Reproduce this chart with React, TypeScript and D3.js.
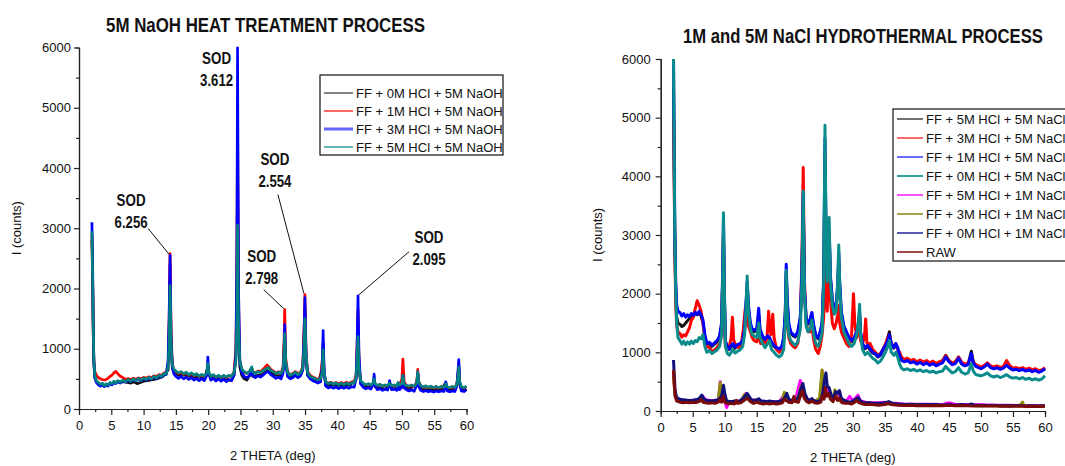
import React, { useEffect, useRef } from 'react';
import * as d3 from 'd3';

type Pt = [number, number];

const FONT = '"Liberation Sans", Arial, Helvetica, sans-serif';

// shared axes
const xMajor = [0, 5, 10, 15, 20, 25, 30, 35, 40, 45, 50, 55, 60];
const xMinor = [2.5, 7.5, 12.5, 17.5, 22.5, 27.5, 32.5, 37.5, 42.5, 47.5, 52.5, 57.5];
const yMajor = [0, 1000, 2000, 3000, 4000, 5000, 6000];
const yMinor = [500, 1500, 2500, 3500, 4500, 5500];
const xTitle = '2 THETA (deg)';
const yTitle = 'I (counts)';

// ---------------- left panel : 5M NaOH heat treatment ----------------
const naohTitle = '5M NaOH HEAT TREATMENT PROCESS';
const naohNames = ['FF + 0M HCl + 5M NaOH', 'FF + 1M HCl + 5M NaOH', 'FF + 3M HCl + 5M NaOH', 'FF + 5M HCl + 5M NaOH'];

const naoh0M: Pt[] = [[2.0,2800],[2.1,2200],[2.2,1300],[2.3,750],[2.45,520],[2.7,450],[3.0,420],[3.5,400],[4.0,390],[4.5,410],[5.0,420],[5.5,440],[6.0,450],[7.0,455],[8.0,430],[8.5,450],[9.0,420],[10.0,460],[11.0,480],[12.0,500],[13.0,540],[13.8,650],[13.95,1200],[14.1,2400],[14.25,1100],[14.45,680],[14.7,600],[15.5,560],[16.5,560],[17.5,540],[18.5,530],[19.5,520],[19.95,700],[20.1,560],[21,520],[22,500],[23,490],[23.6,470],[24.0,560],[24.3,900],[24.45,2000],[24.55,4000],[24.7,1500],[24.9,700],[25.2,560],[25.6,500],[26.0,480],[26.75,620],[26.9,540],[27.7,560],[28.5,580],[29.1,640],[29.7,600],[30.5,560],[31.3,550],[31.6,650],[31.85,1300],[32.0,700],[32.7,520],[33.5,560],[34.3,560],[34.65,650],[34.98,1700],[35.15,850],[35.4,560],[36.2,480],[37.0,440],[37.65,650],[37.8,1100],[37.95,600],[38.2,400],[39.0,400],[40.0,390],[41.0,390],[42.0,400],[42.9,500],[43.05,900],[43.2,1500],[43.35,750],[43.6,420],[44.4,370],[45.2,360],[45.7,450],[45.85,370],[46.6,350],[47.4,330],[48.1,400],[48.4,340],[49.2,340],[49.4,400],[49.6,350],[50.15,500],[50.35,360],[51.1,340],[52.3,400],[52.45,580],[52.6,400],[53.3,320],[54.1,320],[55.3,320],[56.1,320],[56.8,440],[57.0,320],[57.8,320],[58.5,380],[58.7,600],[58.8,740],[58.95,420],[59.2,320],[59.6,310],[60.0,330]];

const naoh1M: Pt[] = [[2.0,2900],[2.1,2300],[2.2,1300],[2.3,800],[2.45,620],[2.7,560],[3.0,520],[3.3,500],[3.6,490],[3.9,480],[4.2,490],[4.5,510],[4.8,540],[5.1,560],[5.4,600],[5.7,625],[6.0,585],[6.4,545],[6.8,520],[7.2,490],[7.6,505],[8.0,490],[8.4,510],[8.8,495],[9.2,515],[9.6,500],[10.0,525],[10.4,510],[10.8,535],[11.2,520],[11.6,550],[12.0,540],[12.4,570],[12.8,560],[13.2,600],[13.5,600],[13.8,750],[13.95,1400],[14.1,2580],[14.25,1300],[14.45,750],[14.7,650],[15.0,615],[15.4,590],[15.8,610],[16.2,575],[16.6,600],[17.0,560],[17.4,590],[17.8,550],[18.2,575],[18.6,540],[19.0,565],[19.4,540],[19.8,580],[19.95,700],[20.1,590],[20.4,535],[20.8,560],[21.2,525],[21.6,550],[22.0,520],[22.4,550],[22.8,525],[23.2,550],[23.6,535],[24.0,620],[24.3,1000],[24.45,2500],[24.55,4850],[24.7,1800],[24.9,800],[25.2,650],[25.6,610],[26.0,590],[26.4,620],[26.75,680],[26.9,620],[27.3,600],[27.7,630],[28.1,620],[28.5,660],[28.9,700],[29.1,730],[29.4,700],[29.7,660],[30.1,630],[30.5,600],[30.9,620],[31.3,600],[31.6,700],[31.75,1100],[31.85,1650],[32.0,850],[32.3,610],[32.7,570],[33.1,590],[33.5,620],[33.9,590],[34.3,610],[34.65,700],[34.85,1300],[34.98,1900],[35.15,950],[35.4,620],[35.8,560],[36.2,530],[36.6,510],[37.0,490],[37.4,520],[37.65,800],[37.8,920],[37.95,600],[38.2,450],[38.6,430],[39.0,445],[39.4,420],[39.8,440],[40.2,420],[40.6,440],[41.0,420],[41.4,445],[41.8,425],[42.2,450],[42.6,440],[42.9,560],[43.05,1000],[43.2,1650],[43.35,800],[43.6,460],[44.0,420],[44.4,400],[44.8,415],[45.2,395],[45.55,420],[45.7,480],[45.85,410],[46.2,390],[46.6,405],[47.0,380],[47.4,395],[47.8,380],[48.1,420],[48.4,380],[48.8,395],[49.2,380],[49.4,420],[49.6,390],[50.0,500],[50.15,830],[50.35,450],[50.7,390],[51.1,375],[51.5,390],[51.9,370],[52.3,450],[52.45,660],[52.6,460],[52.9,385],[53.3,360],[53.7,380],[54.1,355],[54.5,375],[54.9,350],[55.3,370],[55.7,350],[56.1,370],[56.5,355],[56.8,400],[57.0,360],[57.4,350],[57.8,365],[58.2,355],[58.5,400],[58.7,600],[58.8,700],[58.95,430],[59.2,360],[59.6,350],[60.0,370]];

const naoh3M: Pt[] = [[2.0,3100],[2.1,2500],[2.2,1500],[2.3,800],[2.45,520],[2.7,440],[3.0,400],[3.3,380],[3.6,405],[3.9,370],[4.2,400],[4.5,380],[4.8,420],[5.1,400],[5.4,440],[5.7,420],[6.0,455],[6.4,430],[6.8,470],[7.2,445],[7.6,480],[8.0,455],[8.4,490],[8.8,465],[9.2,500],[9.6,470],[10.0,505],[10.4,480],[10.8,515],[11.2,495],[11.6,530],[12.0,505],[12.4,550],[12.8,530],[13.2,580],[13.5,570],[13.8,800],[13.95,1500],[14.1,2550],[14.25,1200],[14.45,700],[14.7,580],[15.0,540],[15.4,510],[15.8,540],[16.2,500],[16.6,530],[17.0,490],[17.4,520],[17.8,480],[18.2,510],[18.6,470],[19.0,505],[19.4,470],[19.8,560],[19.95,860],[20.1,600],[20.4,480],[20.8,505],[21.2,465],[21.6,500],[22.0,460],[22.4,495],[22.8,455],[23.2,490],[23.6,470],[24.0,560],[24.3,900],[24.45,2500],[24.55,6000],[24.7,2000],[24.9,800],[25.2,600],[25.6,540],[26.0,520],[26.4,550],[26.75,640],[26.9,560],[27.3,520],[27.7,550],[28.1,530],[28.5,560],[28.9,600],[29.3,620],[29.7,570],[30.1,540],[30.5,510],[30.9,530],[31.3,500],[31.6,600],[31.75,900],[31.85,1400],[32.0,750],[32.3,540],[32.7,500],[33.1,520],[33.5,560],[33.9,520],[34.3,550],[34.65,650],[34.85,1200],[34.98,1850],[35.15,900],[35.4,560],[35.8,500],[36.2,470],[36.6,450],[37.0,430],[37.4,450],[37.65,700],[37.8,1300],[37.95,650],[38.2,380],[38.6,350],[39.0,370],[39.4,345],[39.8,365],[40.2,340],[40.6,365],[41.0,345],[41.4,365],[41.8,345],[42.2,370],[42.6,360],[42.9,500],[43.05,1000],[43.2,1880],[43.35,900],[43.6,420],[44.0,360],[44.4,335],[44.8,355],[45.2,330],[45.55,420],[45.7,580],[45.85,380],[46.2,320],[46.6,340],[47.0,310],[47.4,330],[47.8,315],[48.1,470],[48.4,320],[48.8,330],[49.2,310],[49.4,430],[49.6,320],[50.0,360],[50.15,560],[50.35,350],[50.7,320],[51.1,300],[51.5,320],[51.9,295],[52.3,400],[52.45,600],[52.6,380],[52.9,310],[53.3,290],[53.7,305],[54.1,285],[54.5,300],[54.9,280],[55.3,300],[55.7,285],[56.1,300],[56.5,290],[56.8,450],[57.0,300],[57.4,285],[57.8,300],[58.2,290],[58.5,380],[58.7,650],[58.8,820],[58.95,450],[59.2,300],[59.6,290],[60.0,320]];

const naoh5M: Pt[] = [[2.0,2950],[2.1,2300],[2.2,1400],[2.3,800],[2.45,560],[2.7,470],[3.0,440],[3.3,410],[3.6,430],[3.9,385],[4.2,420],[4.5,395],[4.8,440],[5.1,420],[5.4,460],[5.7,430],[6.0,470],[6.4,445],[6.8,480],[7.2,455],[7.6,490],[8.0,460],[8.4,500],[8.8,470],[9.2,505],[9.6,480],[10.0,515],[10.4,490],[10.8,525],[11.2,500],[11.6,540],[12.0,515],[12.4,560],[12.8,540],[13.2,590],[13.5,580],[13.8,700],[13.95,1100],[14.1,2050],[14.25,1100],[14.45,720],[14.7,660],[15.0,630],[15.4,600],[15.8,620],[16.2,585],[16.6,610],[17.0,570],[17.4,600],[17.8,560],[18.2,585],[18.6,545],[19.0,575],[19.4,545],[19.8,600],[19.95,760],[20.1,620],[20.4,540],[20.8,570],[21.2,530],[21.6,560],[22.0,525],[22.4,560],[22.8,530],[23.2,560],[23.6,540],[24.0,600],[24.3,800],[24.45,1500],[24.55,3050],[24.7,1400],[24.9,800],[25.2,660],[25.6,620],[26.0,590],[26.4,620],[26.75,700],[26.9,620],[27.3,590],[27.7,620],[28.1,600],[28.5,640],[28.9,660],[29.3,690],[29.7,640],[30.1,620],[30.5,590],[30.9,610],[31.3,590],[31.6,660],[31.75,900],[31.85,1250],[32.0,800],[32.3,600],[32.7,560],[33.1,580],[33.5,610],[33.9,570],[34.3,600],[34.65,680],[34.85,1000],[34.98,1500],[35.15,900],[35.4,600],[35.8,540],[36.2,520],[36.6,500],[37.0,480],[37.4,500],[37.65,600],[37.8,980],[37.95,600],[38.2,450],[38.6,420],[39.0,440],[39.4,410],[39.8,435],[40.2,405],[40.6,430],[41.0,405],[41.4,430],[41.8,410],[42.2,440],[42.6,425],[42.9,520],[43.05,800],[43.2,1200],[43.35,700],[43.6,470],[44.0,430],[44.4,400],[44.8,420],[45.2,395],[45.55,440],[45.7,500],[45.85,420],[46.2,390],[46.6,410],[47.0,380],[47.4,400],[47.8,380],[48.1,430],[48.4,385],[48.8,400],[49.2,380],[49.4,440],[49.6,395],[50.0,420],[50.15,560],[50.35,410],[50.7,390],[51.1,380],[51.5,400],[51.9,375],[52.3,430],[52.45,620],[52.6,450],[52.9,390],[53.3,365],[53.7,385],[54.1,360],[54.5,380],[54.9,355],[55.3,375],[55.7,355],[56.1,375],[56.5,360],[56.8,420],[57.0,370],[57.4,355],[57.8,375],[58.2,360],[58.5,400],[58.7,560],[58.8,700],[58.95,450],[59.2,370],[59.6,355],[60.0,380]];

// SOD reflections (2theta, peak counts, d-spacing)
const sodTheta = [14.1, 24.55, 31.85, 34.98, 43.2];
const sodCounts = [2550, 6000, 1650, 1900, 1880];
const sodD = ['6.256', '3.612', '2.798', '2.554', '2.095'];
// where each label sits relative to its peak (px) and where its leader starts
const sodLabelOffset = [[-39, -55], [-21, 10], [-23, -54], [-30, -136], [71, -59]];
const sodLeaderStart = [[-22, -27], null, [-21, -20], [-27, -100], [51, -44]];

// ---------------- right panel : NaCl hydrothermal ----------------
const naclTitle = '1M and 5M NaCl HYDROTHERMAL PROCESS';
const naclNames = ['FF + 5M HCl + 5M NaCl', 'FF + 3M HCl + 5M NaCl', 'FF + 1M HCl + 5M NaCl', 'FF + 0M HCl + 5M NaCl', 'FF + 5M HCl + 1M NaCl', 'FF + 3M HCl + 1M NaCl', 'FF + 0M HCl + 1M NaCl', 'RAW'];

const nacl5M5: Pt[] = [[2.0,5500],[2.1,4200],[2.2,2900],[2.35,2000],[2.5,1600],[2.7,1500],[3.0,1480],[3.3,1440],[3.6,1460],[3.9,1500],[4.2,1540],[4.5,1580],[4.8,1620],[5.1,1620],[5.4,1660],[5.7,1640],[6.0,1680],[6.3,1620],[6.6,1500],[6.9,1250],[7.2,1130],[7.6,1150],[8.0,1100],[8.4,1140],[8.8,1180],[9.2,1260],[9.5,1450],[9.7,2400],[9.8,3000],[9.95,1900],[10.1,1150],[10.4,1080],[10.7,1050],[11.0,1100],[11.3,1130],[11.6,1070],[12.0,1110],[12.4,1130],[12.8,1180],[13.1,1380],[13.35,1850],[13.5,2100],[13.7,1750],[14.0,1450],[14.3,1380],[14.6,1350],[15.0,1380],[15.3,1650],[15.5,1380],[15.9,1260],[16.3,1200],[16.7,1260],[17.0,1230],[17.3,1160],[17.7,1100],[18.1,1060],[18.5,1040],[18.9,1080],[19.2,1230],[19.45,1650],[19.6,2350],[19.75,1850],[20.0,1450],[20.3,1330],[20.7,1280],[21.0,1260],[21.4,1330],[21.8,1580],[22.05,2300],[22.25,3500],[22.45,2000],[22.7,1580],[23.0,1480],[23.3,1530],[23.6,1650],[23.9,1430],[24.2,1280],[24.6,1230],[24.9,1330],[25.2,1480],[25.45,2200],[25.65,4300],[25.8,3000],[26.0,2250],[26.15,2600],[26.3,3000],[26.5,2250],[26.8,1850],[27.1,1700],[27.4,1750],[27.65,2100],[27.8,2550],[27.95,2100],[28.2,1650],[28.6,1420],[29.0,1330],[29.4,1230],[29.8,1180],[30.2,1230],[30.6,1330],[30.9,1480],[31.05,1650],[31.2,1330],[31.5,1130],[31.9,1060],[32.3,1100],[32.7,1040],[33.1,990],[33.5,970],[33.9,920],[34.3,950],[34.7,1040],[35.1,1110],[35.45,1250],[35.7,1350],[36.0,1140],[36.4,1070],[36.7,1140],[37.0,1070],[37.3,940],[37.6,860],[38.0,850],[38.5,870],[39.0,830],[39.5,850],[40.0,810],[40.5,840],[41.0,800],[41.5,830],[42.0,790],[42.5,820],[43.0,800],[43.5,830],[44.0,850],[44.5,950],[45.0,860],[45.5,800],[46.0,820],[46.5,920],[47.0,810],[47.5,780],[48.0,800],[48.5,1020],[48.8,830],[49.2,770],[49.6,750],[50.0,730],[50.5,760],[51.0,800],[51.5,750],[52.0,730],[52.5,750],[53.0,720],[53.5,740],[54.0,800],[54.5,740],[55.0,710],[55.5,720],[56.0,700],[56.5,720],[57.0,690],[57.5,710],[58.0,680],[58.5,700],[59.0,670],[59.5,690],[60.0,720]];

const nacl3M5: Pt[] = [[2.0,5000],[2.1,4000],[2.2,2800],[2.35,1800],[2.5,1450],[2.7,1350],[3.0,1320],[3.3,1260],[3.6,1300],[3.9,1280],[4.2,1350],[4.5,1420],[4.8,1550],[5.1,1600],[5.4,1750],[5.7,1880],[6.0,1800],[6.3,1700],[6.6,1500],[6.9,1250],[7.2,1100],[7.6,1080],[8.0,1010],[8.4,1040],[8.8,1080],[9.2,1150],[9.5,1300],[9.7,2300],[9.8,3000],[9.95,1800],[10.1,1100],[10.4,1050],[10.7,1100],[11.0,1250],[11.2,1600],[11.4,1200],[11.8,1100],[12.2,1080],[12.6,1150],[12.9,1400],[13.2,1750],[13.45,1600],[13.7,1450],[14.0,1350],[14.3,1250],[14.6,1200],[15.0,1180],[15.3,1300],[15.6,1150],[15.9,1180],[16.3,1150],[16.6,1250],[16.85,1700],[17.0,1450],[17.2,1300],[17.5,1650],[17.7,1250],[18.1,1050],[18.5,1000],[18.9,1050],[19.2,1200],[19.45,1500],[19.6,1900],[19.75,1500],[20.0,1250],[20.3,1150],[20.7,1100],[21.0,1080],[21.4,1150],[21.8,1500],[22.05,2600],[22.25,4150],[22.45,2200],[22.7,1500],[23.0,1350],[23.3,1350],[23.6,1450],[23.9,1200],[24.2,1050],[24.6,980],[24.9,1100],[25.2,1300],[25.45,1600],[25.65,2500],[25.8,1900],[26.0,1700],[26.15,2200],[26.3,2650],[26.5,1900],[26.8,1500],[27.1,1400],[27.4,1500],[27.65,1650],[27.8,1800],[27.95,1500],[28.2,1350],[28.6,1250],[29.0,1150],[29.4,1100],[29.8,1300],[30.1,2000],[30.3,1500],[30.6,1250],[30.9,1350],[31.05,1500],[31.2,1200],[31.5,1150],[31.8,1250],[32.0,1570],[32.2,1150],[32.7,1150],[33.1,1050],[33.5,1000],[33.9,950],[34.3,980],[34.7,1050],[35.1,1150],[35.45,1250],[35.7,1300],[36.0,1150],[36.4,1100],[36.7,1150],[37.0,1050],[37.3,1000],[37.6,920],[38.0,880],[38.5,900],[39.0,860],[39.5,880],[40.0,840],[40.5,870],[41.0,830],[41.5,860],[42.0,820],[42.5,850],[43.0,810],[43.5,840],[44.0,860],[44.5,940],[45.0,860],[45.5,820],[46.0,840],[46.5,920],[47.0,830],[47.5,800],[48.0,820],[48.5,950],[48.8,840],[49.2,790],[49.6,770],[50.0,750],[50.5,780],[51.0,820],[51.5,770],[52.0,750],[52.5,770],[53.0,740],[53.5,760],[54.0,860],[54.5,770],[55.0,730],[55.5,740],[56.0,720],[56.5,740],[57.0,710],[57.5,730],[58.0,700],[58.5,720],[59.0,690],[59.5,700],[60.0,740]];

const nacl1M5: Pt[] = [[2.0,6000],[2.1,4600],[2.2,3100],[2.35,2200],[2.5,1800],[2.7,1700],[3.0,1680],[3.3,1620],[3.6,1660],[3.9,1600],[4.2,1640],[4.5,1610],[4.8,1660],[5.1,1630],[5.4,1680],[5.7,1650],[6.0,1700],[6.3,1640],[6.6,1550],[6.9,1300],[7.2,1150],[7.6,1170],[8.0,1120],[8.4,1160],[8.8,1200],[9.2,1280],[9.5,1500],[9.7,2500],[9.8,3300],[9.95,2000],[10.1,1200],[10.4,1100],[10.7,1060],[11.0,1120],[11.3,1150],[11.6,1090],[12.0,1130],[12.4,1150],[12.8,1200],[13.1,1400],[13.35,1900],[13.5,2200],[13.7,1800],[14.0,1500],[14.3,1400],[14.6,1380],[15.0,1400],[15.3,1750],[15.5,1400],[15.9,1280],[16.3,1220],[16.7,1280],[17.0,1250],[17.3,1180],[17.7,1120],[18.1,1080],[18.5,1060],[18.9,1100],[19.2,1250],[19.45,1700],[19.6,2500],[19.75,1900],[20.0,1500],[20.3,1350],[20.7,1300],[21.0,1280],[21.4,1350],[21.8,1600],[22.05,2400],[22.25,3700],[22.45,2100],[22.7,1600],[23.0,1500],[23.3,1550],[23.6,1680],[23.9,1450],[24.2,1300],[24.6,1250],[24.9,1350],[25.2,1500],[25.45,2300],[25.65,4650],[25.8,3100],[26.0,2300],[26.15,2700],[26.3,3100],[26.5,2300],[26.8,1900],[27.1,1750],[27.4,1800],[27.65,2200],[27.8,2700],[27.95,2200],[28.2,1700],[28.6,1450],[29.0,1350],[29.4,1250],[29.8,1200],[30.2,1250],[30.6,1350],[30.9,1500],[31.05,1700],[31.2,1350],[31.5,1150],[31.9,1080],[32.3,1120],[32.7,1060],[33.1,1000],[33.5,980],[33.9,930],[34.3,960],[34.7,1050],[35.1,1120],[35.45,1200],[35.7,1300],[36.0,1150],[36.4,1080],[36.7,1150],[37.0,1080],[37.3,950],[37.6,870],[38.0,840],[38.5,860],[39.0,820],[39.5,840],[40.0,800],[40.5,830],[41.0,790],[41.5,820],[42.0,780],[42.5,810],[43.0,770],[43.5,800],[44.0,820],[44.5,920],[45.0,840],[45.5,790],[46.0,810],[46.5,900],[47.0,800],[47.5,770],[48.0,790],[48.5,980],[48.8,820],[49.2,760],[49.6,740],[50.0,720],[50.5,750],[51.0,800],[51.5,740],[52.0,720],[52.5,740],[53.0,710],[53.5,730],[54.0,780],[54.5,730],[55.0,700],[55.5,710],[56.0,690],[56.5,710],[57.0,680],[57.5,700],[58.0,670],[58.5,690],[59.0,660],[59.5,680],[60.0,720]];

const nacl0M5: Pt[] = [[2.0,6000],[2.1,4500],[2.2,3000],[2.35,2000],[2.5,1500],[2.7,1250],[3.0,1200],[3.3,1140],[3.6,1190],[3.9,1130],[4.2,1180],[4.5,1140],[4.8,1190],[5.1,1150],[5.4,1200],[5.7,1180],[6.0,1250],[6.3,1230],[6.6,1300],[6.9,1100],[7.2,1000],[7.6,1030],[8.0,980],[8.4,1010],[8.8,1040],[9.2,1100],[9.5,1300],[9.7,2400],[9.8,3380],[9.95,2000],[10.1,1100],[10.4,980],[10.7,950],[11.0,1000],[11.3,1050],[11.6,990],[12.0,1020],[12.4,1040],[12.8,1100],[13.1,1300],[13.35,1800],[13.5,2300],[13.7,1700],[14.0,1400],[14.3,1300],[14.6,1280],[15.0,1250],[15.3,1500],[15.5,1250],[15.9,1150],[16.3,1080],[16.7,1150],[17.0,1200],[17.3,1050],[17.7,1000],[18.1,950],[18.5,920],[18.9,960],[19.2,1050],[19.45,1500],[19.6,2400],[19.75,1700],[20.0,1300],[20.3,1200],[20.7,1150],[21.0,1120],[21.4,1180],[21.8,1400],[22.05,2200],[22.25,3750],[22.45,2000],[22.7,1450],[23.0,1350],[23.3,1400],[23.6,1550],[23.9,1300],[24.2,1150],[24.6,1100],[24.9,1200],[25.2,1350],[25.45,2200],[25.65,4870],[25.8,3200],[26.0,2200],[26.15,2800],[26.3,3300],[26.5,2200],[26.8,1800],[27.1,1650],[27.4,1700],[27.65,2200],[27.8,2830],[27.95,2100],[28.2,1600],[28.6,1350],[29.0,1250],[29.4,1150],[29.8,1100],[30.2,1150],[30.6,1300],[30.9,1550],[31.05,1820],[31.2,1300],[31.5,1050],[31.9,960],[32.3,1000],[32.7,950],[33.1,900],[33.5,870],[33.9,820],[34.3,850],[34.7,920],[35.1,1000],[35.45,1100],[35.7,1200],[36.0,1000],[36.4,950],[36.7,1000],[37.0,920],[37.3,800],[37.6,730],[38.0,700],[38.5,720],[39.0,690],[39.5,710],[40.0,680],[40.5,700],[41.0,670],[41.5,690],[42.0,660],[42.5,680],[43.0,650],[43.5,670],[44.0,680],[44.5,760],[45.0,700],[45.5,650],[46.0,670],[46.5,740],[47.0,660],[47.5,630],[48.0,650],[48.5,800],[48.8,680],[49.2,620],[49.6,610],[50.0,600],[50.5,620],[51.0,650],[51.5,600],[52.0,580],[52.5,600],[53.0,570],[53.5,590],[54.0,620],[54.5,580],[55.0,560],[55.5,570],[56.0,550],[56.5,570],[57.0,540],[57.5,560],[58.0,530],[58.5,550],[59.0,525],[59.5,545],[60.0,600]];

const nacl5M1: Pt[] = [[2.0,650],[2.1,480],[2.25,280],[2.5,210],[3.0,190],[4.0,180],[5.0,180],[6.0,200],[6.5,260],[7.0,190],[8.0,175],[9.0,190],[9.3,500],[9.5,260],[10.0,170],[10.3,60],[10.6,160],[11.5,160],[12.5,170],[13.0,260],[13.3,300],[13.7,220],[14.5,180],[15.5,170],[16.5,160],[17.5,160],[18.5,155],[19.2,260],[19.5,220],[20.0,180],[21.0,180],[21.8,520],[22.1,350],[23.0,190],[24.0,170],[25.0,210],[25.2,690],[25.4,350],[25.8,400],[26.3,300],[26.8,230],[27.3,300],[27.7,260],[28.3,180],[29.0,170],[29.5,250],[30.0,170],[30.8,270],[31.2,170],[32.0,150],[33.0,140],[34.0,140],[35.0,150],[36.0,130],[37.0,130],[38.0,120],[40.0,115],[42.0,115],[44.0,110],[45.0,140],[46.0,110],[48.0,110],[50.0,105],[52.0,100],[54.0,100],[56.0,95],[58.0,95],[60.0,90]];

const nacl3M1: Pt[] = [[2.0,600],[2.1,450],[2.25,260],[2.5,200],[3.0,185],[4.0,170],[5.0,170],[6.0,190],[6.3,240],[6.6,180],[7.5,160],[8.5,170],[9.0,200],[9.3,480],[9.5,250],[10.0,170],[11.0,150],[12.0,150],[12.7,200],[13.1,280],[13.4,220],[14.0,170],[15.0,160],[16.0,150],[17.0,150],[18.0,145],[19.0,180],[19.3,320],[19.5,200],[20.0,170],[21.0,170],[21.6,280],[21.9,420],[22.2,300],[23.0,170],[24.0,160],[24.8,220],[25.2,700],[25.45,350],[25.8,300],[26.2,280],[26.6,220],[27.0,250],[27.2,360],[27.5,220],[28.0,170],[29.0,150],[30.0,150],[30.5,200],[31.0,150],[32.0,130],[34.0,120],[36.0,120],[38.0,110],[40.0,105],[42.0,100],[44.0,100],[46.0,95],[48.0,95],[50.0,90],[52.0,90],[54.0,85],[56.0,85],[56.5,150],[56.7,90],[58.0,80],[60.0,80]];

const nacl0M1: Pt[] = [[2.0,870],[2.1,650],[2.25,350],[2.5,230],[3.0,200],[3.5,190],[4.0,185],[4.5,180],[5.0,185],[5.5,190],[6.0,210],[6.4,270],[6.8,200],[7.2,180],[8.0,170],[8.5,180],[9.0,190],[9.5,250],[9.8,440],[10.0,300],[10.3,170],[11.0,160],[11.5,170],[12.0,160],[12.5,180],[13.0,230],[13.5,300],[13.8,250],[14.2,180],[15.0,190],[15.3,210],[15.7,170],[16.5,160],[17.0,170],[17.5,160],[18.0,155],[18.5,165],[19.0,180],[19.4,230],[19.7,300],[20.0,200],[20.5,180],[21.0,190],[21.5,230],[21.9,380],[22.2,470],[22.5,300],[22.9,200],[23.3,180],[23.6,210],[24.0,170],[24.5,160],[25.0,190],[25.3,300],[25.6,550],[25.8,650],[26.0,420],[26.3,400],[26.6,280],[27.0,220],[27.3,330],[27.6,300],[27.9,350],[28.2,220],[28.7,180],[29.2,160],[29.7,150],[30.3,190],[30.8,230],[31.2,170],[31.7,140],[32.5,140],[33.5,130],[34.5,130],[35.3,150],[35.6,160],[36.2,130],[37.0,120],[38.0,110],[39.0,115],[40.0,105],[41.0,110],[42.0,105],[43.0,110],[44.0,100],[45.0,110],[46.0,100],[47.0,110],[48.0,100],[48.5,120],[49.0,95],[50.0,100],[51.0,95],[52.0,100],[53.0,90],[54.0,95],[55.0,90],[56.0,95],[57.0,85],[58.0,90],[59.0,85],[60.0,90]];

const naclRaw: Pt[] = [[2.0,700],[2.1,500],[2.25,250],[2.5,170],[3.0,150],[3.5,140],[4.0,150],[4.5,140],[5.0,150],[5.5,145],[6.0,160],[6.3,200],[6.6,150],[7.0,140],[7.5,130],[8.0,140],[8.5,130],[9.0,150],[9.3,200],[9.5,150],[9.8,250],[10.0,150],[10.5,120],[11.0,130],[11.5,120],[11.8,180],[12.0,130],[12.5,140],[13.0,180],[13.5,220],[14.0,160],[14.5,130],[15.0,150],[15.5,130],[16.0,120],[16.5,130],[17.0,120],[17.5,130],[18.0,120],[18.5,125],[19.0,140],[19.3,200],[19.6,180],[20.0,150],[20.5,140],[20.8,250],[21.0,160],[21.5,150],[21.8,250],[22.1,350],[22.4,220],[22.8,160],[23.2,140],[23.6,170],[24.0,140],[24.5,130],[25.0,150],[25.2,250],[25.5,200],[25.7,400],[25.9,250],[26.2,300],[26.5,200],[26.9,160],[27.3,250],[27.6,180],[27.9,220],[28.3,140],[28.8,130],[29.3,130],[29.8,120],[30.3,150],[30.6,180],[31.0,140],[31.5,120],[32.0,110],[33.0,110],[34.0,100],[35.0,110],[35.5,130],[36.0,110],[37.0,100],[38.0,95],[39.0,100],[40.0,90],[41.0,95],[42.0,90],[43.0,95],[44.0,90],[45.0,100],[46.0,90],[47.0,95],[48.0,90],[49.0,85],[50.0,90],[51.0,85],[52.0,90],[53.0,80],[54.0,85],[55.0,80],[56.0,85],[57.0,75],[58.0,80],[59.0,75],[60.0,80]];

// bold text squeezed horizontally to a target width (the original uses a narrow face)
function narrowText(parent, str, cx, baseline, size, width) {
  var t = parent.append('text')
    .attr('text-anchor', 'middle').attr('font-family', FONT).attr('font-size', size).attr('font-weight', 'bold')
    .attr('fill', '#111')
    .text(str);
  var natural = t.node().getComputedTextLength() || width;
  t.attr('transform', 'translate(' + cx + ',' + baseline + ') scale(' + (width / natural) + ',1)');
  return t;
}

function drawPanel(svg, p) {
  var x = d3.scaleLinear().domain([0, 60]).range([p.left, p.right]);
  var y = d3.scaleLinear().domain([0, 6000]).range([p.bottom, p.top]);

  svg.append('defs').append('clipPath').attr('id', 'clip-' + p.id)
    .append('rect')
    .attr('x', p.left).attr('y', p.top - 1)
    .attr('width', p.right - p.left + 1).attr('height', p.bottom - p.top + 1);

  var line = d3.line().x(d => x(d[0])).y(d => y(d[1]));

  // the scans, first listed at the bottom; wide strokes stand in for the counting noise band
  svg.append('g').attr('clip-path', 'url(#clip-' + p.id + ')')
    .selectAll('path')
    .data(p.series)
    .enter().append('path')
    .attr('d', s => line(s.data))
    .attr('fill', 'none')
    .attr('stroke', s => s.color)
    .attr('stroke-width', p.lineW)
    .attr('stroke-linejoin', 'round');

  // minor ticks first, then the major axes with labels
  svg.append('g').attr('transform', 'translate(0,' + p.bottom + ')')
    .call(d3.axisBottom(x).tickValues(xMinor).tickSize(3).tickFormat(() => ''));
  svg.append('g').attr('transform', 'translate(' + p.left + ',0)')
    .call(d3.axisLeft(y).tickValues(yMinor).tickSize(3).tickFormat(() => ''));

  var xa = svg.append('g').attr('transform', 'translate(0,' + p.bottom + ')')
    .call(d3.axisBottom(x).tickValues(xMajor).tickSize(6).tickSizeOuter(0).tickPadding(6).tickFormat(d3.format('d')));
  var ya = svg.append('g').attr('transform', 'translate(' + p.left + ',0)')
    .call(d3.axisLeft(y).tickValues(yMajor).tickSize(5).tickSizeOuter(0).tickPadding(p.yPad).tickFormat(d3.format('d')));

  svg.selectAll('.domain, .tick line').attr('stroke', '#222').attr('stroke-width', 1.2);
  [xa, ya].forEach(a => a.attr('font-family', FONT).attr('font-size', 13).selectAll('text').attr('fill', '#111'));

  svg.append('text')
    .attr('x', (p.left + p.right) / 2).attr('y', p.bottom + 51)
    .attr('text-anchor', 'middle').attr('font-family', FONT).attr('font-size', 13).attr('fill', '#111')
    .text(xTitle);
  svg.append('text')
    .attr('transform', 'translate(' + p.yTitleX + ',' + (p.top + p.bottom) / 2 + ') rotate(-90)')
    .attr('text-anchor', 'middle').attr('font-family', FONT).attr('font-size', 13).attr('fill', '#111')
    .text(yTitle);

  narrowText(svg, p.title, p.titleX, p.titleY, 20, p.titleW);

  // legend
  var lg = svg.append('g');
  lg.append('rect')
    .attr('x', p.legend.x).attr('y', p.legend.y).attr('width', p.legend.w).attr('height', p.legend.h)
    .attr('fill', 'white').attr('stroke', '#111').attr('stroke-width', 1.2);
  var row = lg.selectAll('.row').data(p.series).enter().append('g')
    .attr('transform', (s, i) => 'translate(' + p.legend.x + ',' + (p.legend.first + i * p.legend.step) + ')');
  row.append('line')
    .attr('x1', 4).attr('x2', p.legend.lineW)
    .attr('stroke', s => s.legendColor || s.color)
    .attr('stroke-width', s => s.legendWidth);
  row.append('text')
    .attr('x', p.legend.lineW + 3).attr('dy', '0.35em')
    .attr('font-family', FONT).attr('font-size', 13).attr('fill', '#111')
    .text(s => s.name);

  return { x, y };
}

export default function App() {
  const ref = useRef(null);

  useEffect(() => {
    var svg = d3.select(ref.current);
    svg.selectAll('*').remove();

    var left = drawPanel(svg, {
      id: 'naoh', left: 79, right: 466.5, top: 47.5, bottom: 409, yPad: 3, lineW: 2.7, yTitleX: 21,
      title: naohTitle, titleX: 265.5, titleY: 32, titleW: 319,
      legend: { x: 320, y: 75, w: 183, h: 80, first: 93, step: 18, lineW: 33 },
      series: [
        { name: naohNames[0], data: naoh0M, color: '#111111', legendColor: '#333', legendWidth: 1.2 },
        { name: naohNames[1], data: naoh1M, color: '#ff0000', legendWidth: 1.2 },
        { name: naohNames[2], data: naoh3M, color: '#0000ff', legendColor: '#6464ff', legendWidth: 3 },
        { name: naohNames[3], data: naoh5M, color: '#008080', legendWidth: 1.2 }
      ]
    });

    // SOD peak labels on the NaOH panel
    var ann = svg.append('g');
    sodD.forEach((d, i) => {
      var px = left.x(sodTheta[i]);
      var py = left.y(sodCounts[i]);
      var off = sodLabelOffset[i];
      narrowText(ann, 'SOD', px + off[0], py + off[1] + 6, 17, 29);
      narrowText(ann, d, px + off[0], py + off[1] + 28, 17, 33);
      var ls = sodLeaderStart[i];
      if (ls) {
        ann.append('line')
          .attr('x1', px + ls[0]).attr('y1', py + ls[1])
          .attr('x2', px + (ls[0] < 0 ? -1 : 1)).attr('y2', py - 1)
          .attr('stroke', '#111').attr('stroke-width', 1);
      }
    });

    drawPanel(svg, {
      id: 'nacl', left: 660.7, right: 1045, top: 59, bottom: 411, yPad: 5, lineW: 3, yTitleX: 602,
      title: naclTitle, titleX: 863, titleY: 42.5, titleW: 360,
      legend: { x: 893, y: 109, w: 200, h: 152, first: 119, step: 19, lineW: 30 },
      series: [
        { name: naclNames[0], data: nacl5M5, color: '#111111', legendWidth: 1.2 },
        { name: naclNames[1], data: nacl3M5, color: '#ff0000', legendColor: '#ff2a2a', legendWidth: 1.4 },
        { name: naclNames[2], data: nacl1M5, color: '#0000ff', legendColor: '#2a2aff', legendWidth: 1.4 },
        { name: naclNames[3], data: nacl0M5, color: '#0a8c8c', legendColor: '#30a0a0', legendWidth: 2 },
        { name: naclNames[4], data: nacl5M1, color: '#ff00ff', legendColor: '#ff50ff', legendWidth: 2 },
        { name: naclNames[5], data: nacl3M1, color: '#8c8c00', legendColor: '#a4a448', legendWidth: 2 },
        { name: naclNames[6], data: nacl0M1, color: '#10107a', legendColor: '#5a5ab4', legendWidth: 2 },
        { name: naclNames[7], data: naclRaw, color: '#7a0a0a', legendColor: '#a04848', legendWidth: 2 }
      ]
    });
  }, []);

  return (
    <svg ref={ref} width={1065} height={466}
      style={{ position: 'absolute', left: 0, top: 0, background: 'white' }} />
  );
}
